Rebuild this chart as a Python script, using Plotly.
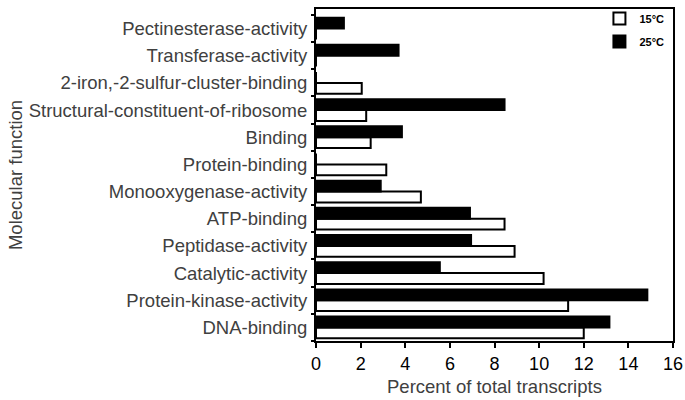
import plotly.graph_objects as go

categories = ["DNA-binding", "Protein-kinase-activity", "Catalytic-activity",
              "Peptidase-activity", "ATP-binding", "Monooxygenase-activity",
              "Protein-binding", "Binding", "Structural-constituent-of-ribosome",
              "2-iron,-2-sulfur-cluster-binding", "Transferase-activity",
              "Pectinesterase-activity"]
values_15 = [12.0, 11.3, 10.2, 8.9, 8.45, 4.7, 3.15, 2.45, 2.25, 2.05, 0, 0]
values_25 = [13.15, 14.85, 5.55, 6.95, 6.9, 2.9, 0, 3.85, 8.45, 0, 3.7, 1.25]
x_ticks = [0, 2, 4, 6, 8, 10, 12, 14, 16]

font_family = "Liberation Sans, Arial, sans-serif"
text_color = "#404040"

fig = go.Figure()
fig.add_trace(go.Bar(
    y=categories, x=values_15, orientation="h", name="15°C", legendgroup="a",
    marker=dict(color="white", line=dict(color="black", width=2)),
))
fig.add_trace(go.Bar(
    y=categories, x=values_25, orientation="h", name="25°C", legendgroup="b",
    marker=dict(color="black", line=dict(color="black", width=2)),
))

fig.update_layout(
    width=685, height=400,
    margin=dict(l=316, r=12, t=9, b=59, autoexpand=False),
    paper_bgcolor="white", plot_bgcolor="white",
    barmode="group", bargap=0.2, bargroupgap=0,
    font=dict(family=font_family, color=text_color, size=18),
    showlegend=True,
    legend=dict(x=0.99, y=1.015, xanchor="right", yanchor="top",
                traceorder="grouped", tracegroupgap=4,
                font=dict(size=11, color="black", family=font_family, weight="bold"),
                bgcolor="rgba(0,0,0,0)", itemwidth=30),
    annotations=[
        dict(text="Percent of total transcripts", xref="paper", yref="paper",
             x=0.5, y=-0.1, xanchor="center", yanchor="top", showarrow=False,
             font=dict(size=18.5, color=text_color)),
        dict(text="Molecular function", xref="paper", yref="paper",
             x=-0.843, y=0.5, xanchor="center", yanchor="middle", showarrow=False,
             textangle=-90, font=dict(size=18.5, color=text_color)),
    ],
)
fig.update_xaxes(
    range=[0, 16], tickvals=x_ticks, ticktext=[str(v) for v in x_ticks],
    showline=True, linecolor="black", linewidth=2, mirror=True,
    ticks="outside", ticklen=5, tickwidth=2, tickcolor="black",
    showgrid=False, zeroline=False, automargin=False,
    tickfont=dict(size=18, color="black"),
)
fig.update_yaxes(
    range=[-0.5, 11.72], type="category", automargin=False,
    showline=True, linecolor="black", linewidth=2, mirror=True,
    ticks="outside", tickson="boundaries", ticklen=3, tickwidth=2, tickcolor="black",
    showgrid=False, zeroline=False, ticklabelstandoff=3,
    tickfont=dict(size=18.5, color=text_color),
)

fig.write_html(
    "out.html",
    config={"displayModeBar": False},
    post_script="document.body.style.margin='0';document.body.style.overflow='hidden';",
)
